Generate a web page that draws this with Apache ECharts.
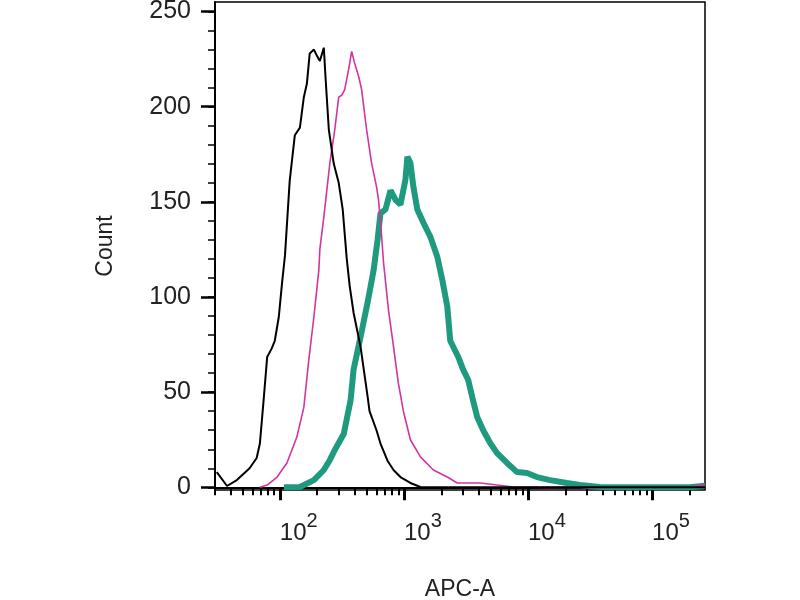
<!DOCTYPE html>
<html>
<head>
<meta charset="utf-8">
<script src="https://cdn.jsdelivr.net/npm/echarts@6/dist/echarts.min.js"></script>
<style>
  html, body { margin: 0; padding: 0; background: #fff; }
  #main { width: 800px; height: 600px; }
</style>
</head>
<body>
<div id="main"></div>
<script>
// APC-A fluorescence (linear units) and event counts
const blackX = [31, 37.5, 45, 57, 65, 69, 74, 79, 86, 91, 98, 104, 110, 120, 132, 145, 156, 165, 174, 188, 198, 210, 226, 234, 248, 272, 298, 321, 346, 365, 393, 447, 510, 528, 601, 647, 737, 824, 937, 1127, 1358, 2077, 5000, 267000];
const blackY = [8, 0.7, 3.8, 10, 15.4, 23, 46, 68.5, 73, 77, 89.5, 107, 122, 161, 185, 189, 205, 212, 228, 230, 227, 224, 231, 214, 188, 170, 160, 146, 120, 106, 91.6, 73.8, 47.5, 40, 30, 23, 14, 9.1, 5.4, 2.3, 0.2, 0, 0, 0];

const magentaX = [69, 79, 95, 114, 137, 156, 171, 188, 206, 210, 226, 253, 277, 298, 315, 333, 358, 379, 400, 431, 456, 500, 548, 601, 624, 647, 685, 751, 820, 900, 990, 1127, 1358, 1726, 2235, 2691, 4115, 5630, 7580, 14220, 200000, 267000];
const magentaY = [0, 1.2, 5.4, 12.8, 26.4, 42, 67, 89.5, 114, 125, 142, 170.5, 188, 205, 206, 209, 219.5, 229, 223, 216, 209, 188, 170.5, 158, 151, 140, 118, 93, 75, 55, 40, 25, 16, 9.1, 5.4, 2.3, 2.3, 1.2, 0.2, 0, 0, 1.5];

const tealX = [108, 145, 188, 226, 253, 277, 327, 372, 393, 447, 509, 569, 613, 647, 710, 779, 856, 937, 1028, 1067, 1127, 1191, 1282, 1435, 1634, 1859, 2038, 2235, 2361, 2741, 3006, 3297, 3549, 3892, 4352, 4953, 5630, 6778, 8160, 9823, 11810, 15020, 20570, 26180, 37850, 62370, 200000, 267000];
const tealY = [0, 0.2, 3.8, 9.1, 14.4, 19.6, 28, 46, 62, 79, 97, 114, 130, 144, 146, 156, 151, 148.5, 161.6, 173.7, 170.5, 158, 146, 139, 131.6, 121, 109, 95, 77, 68.5, 61.7, 56.4, 47.5, 37, 30, 23.3, 18, 12.8, 8, 7.5, 5.4, 3.8, 2.3, 1.2, 0.2, 0, 0, 0.8];

const yTickLabels = [0, 50, 100, 150, 200, 250];
const xDecades = [2, 3, 4, 5];

const X_MIN = 30, X_MAX = 267000;
const lo = Math.log10(X_MIN), hi = Math.log10(X_MAX);
const toLog = (xs, ys) => xs.map((v, i) => [Math.log10(v), ys[i]]);

// minor ticks: 2..9 x each decade, inside the axis range
const xMinor = [];
for (let d = 1; d <= 5; d++) {
  for (let k = 2; k <= 9; k++) {
    const t = Math.log10(k * Math.pow(10, d));
    if (t >= lo && t <= hi) xMinor.push(t);
  }
}
const yMinor = [];
for (let v = 0; v <= 250; v += 10) yMinor.push(v);

const font = "'Liberation Sans', Arial, sans-serif";
const chart = echarts.init(document.getElementById('main'));
chart.setOption({
  animation: false,
  grid: {
    left: 215, right: 95, top: 2, bottom: 110,
    outerBoundsMode: 'none', containLabel: false,
    show: true, borderColor: '#000', borderWidth: 1.5
  },
  xAxis: [
    {
      type: 'value', min: lo, max: hi, gridIndex: 0,
      name: 'APC-A', nameLocation: 'middle', nameGap: 88,
      nameTextStyle: { fontSize: 23, color: '#222', fontFamily: font },
      axisLine: { lineStyle: { color: '#000', width: 2 } },
      splitLine: { show: false },
      axisTick: { customValues: xDecades, length: 13, lineStyle: { color: '#000', width: 3 } },
      axisLabel: {
        customValues: xDecades, align: 'left', margin: 21,
        formatter: v => '{b|10}{s|' + Math.round(v) + '}',
        rich: {
          b: { fontSize: 24, lineHeight: 34, verticalAlign: 'bottom', color: '#222', fontFamily: font },
          s: { fontSize: 20, lineHeight: 20, verticalAlign: 'top', color: '#222', fontFamily: font }
        }
      }
    },
    {
      type: 'value', min: lo, max: hi, gridIndex: 0, position: 'bottom',
      axisLine: { show: false }, splitLine: { show: false }, axisLabel: { show: false },
      axisTick: { customValues: xMinor, length: 8, lineStyle: { color: '#000', width: 2 } }
    }
  ],
  yAxis: [
    {
      type: 'value', min: -1.4, max: 255,
      name: 'Count', nameLocation: 'middle', nameGap: 98,
      nameTextStyle: { fontSize: 23, color: '#222', fontFamily: font },
      axisLine: { show: true, lineStyle: { color: '#000', width: 2 } },
      splitLine: { show: false },
      axisTick: { customValues: yTickLabels, length: 14, lineStyle: { color: '#000', width: 2.5 } },
      axisLabel: { customValues: yTickLabels, margin: 24, fontSize: 25, color: '#222', fontFamily: font }
    },
    {
      type: 'value', min: -1.4, max: 255, position: 'left',
      axisLine: { show: false }, splitLine: { show: false }, axisLabel: { show: false },
      axisTick: { show: true, customValues: yMinor, length: 7, lineStyle: { color: '#000', width: 1.5 } }
    }
  ],
  series: [
    { type: 'line', data: toLog(tealX, tealY), showSymbol: false, lineStyle: { color: '#1f9a7e', width: 6 }, z: 2 },
    { type: 'line', data: toLog(magentaX, magentaY), showSymbol: false, lineStyle: { color: '#d2359e', width: 1.6 }, z: 3 },
    { type: 'line', data: toLog(blackX, blackY), showSymbol: false, lineStyle: { color: '#000', width: 2 }, z: 4 }
  ]
});
</script>
</body>
</html>
